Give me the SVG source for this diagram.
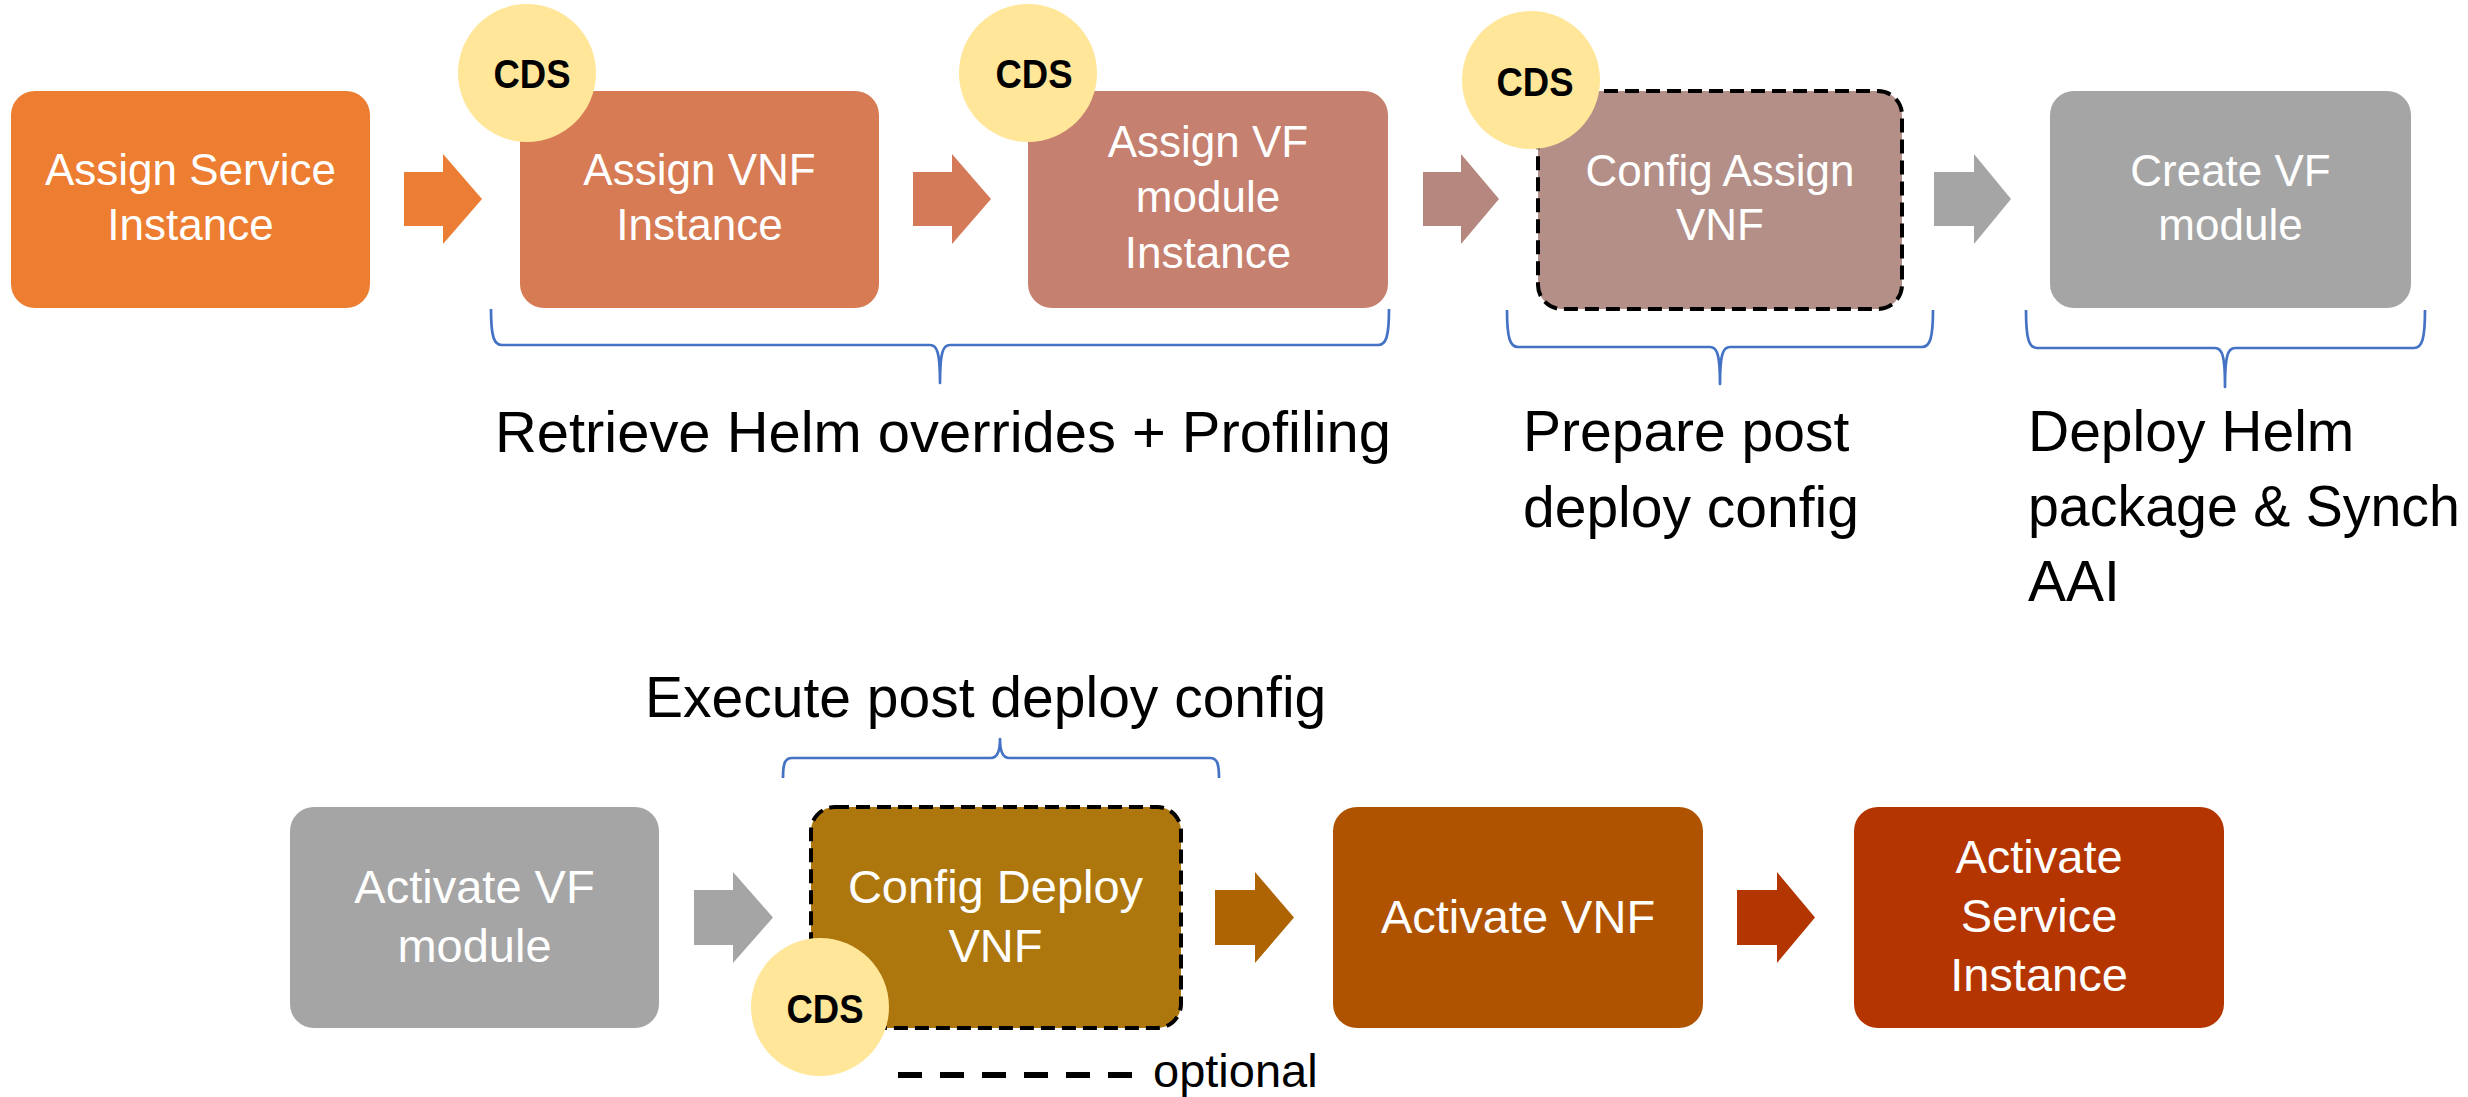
<svg xmlns="http://www.w3.org/2000/svg" width="2468" height="1097" viewBox="0 0 2468 1097">
<style>
.box{stroke:none}
.dash{fill-opacity:1;stroke:#000;stroke-width:4;stroke-dasharray:14 7}
.bt{font-family:"Liberation Sans",Arial,sans-serif;font-size:44px;fill:#fff;text-anchor:middle}
.bt2{font-family:"Liberation Sans",Arial,sans-serif;font-size:47px;fill:#fff;text-anchor:middle}
.cds{fill:#FFE699}
.ct{font-family:"Liberation Sans",Arial,sans-serif;font-size:41px;font-weight:bold;fill:#000;text-anchor:middle}
.lbl{font-family:"Liberation Sans",Arial,sans-serif;font-size:57px;fill:#000}
.brace{fill:none;stroke:#4472C4;stroke-width:2.7;stroke-linejoin:round}
</style>
<rect width="2468" height="1097" fill="#fff"/>

<g id="connectors">
  <polygon fill="#EB7D35" points="404,172 443,172 443,154 482,199 443,244 443,226 404,226"/>
  <polygon fill="#D47A58" points="913,172 952,172 952,154 991,199 952,244 952,226 913,226"/>
  <polygon fill="#B5877E" points="1423,172 1461,172 1461,154 1499,199 1461,244 1461,226 1423,226"/>
  <polygon fill="#A5A5A5" points="1934,172 1974,172 1974,154 2011,199 1974,244 1974,226 1934,226"/>
  <polygon fill="#A5A5A5" points="694,890 733,890 733,872 773,917.5 733,963 733,945 694,945"/>
  <polygon fill="#AE6403" points="1215,890 1255,890 1255,872 1294,917.5 1255,963 1255,945 1215,945"/>
  <polygon fill="#B33500" points="1737,890 1777,890 1777,872 1815,917.5 1777,963 1777,945 1737,945"/>
</g>

<g id="n1">
  <rect class="box" x="11" y="91" width="359" height="217" rx="24" fill="#ED7D31"/>
  <text class="bt" x="190.5" y="185">Assign Service</text>
  <text class="bt" x="190.5" y="240">Instance</text>
</g>
<g id="n2">
  <rect class="box" x="520" y="91" width="359" height="217" rx="24" fill="#D77B54"/>
  <text class="bt" x="699.5" y="185">Assign VNF</text>
  <text class="bt" x="699.5" y="240">Instance</text>
</g>
<g id="n3">
  <rect class="box" x="1028" y="91" width="360" height="217" rx="24" fill="#C5806F"/>
  <text class="bt" x="1208" y="157">Assign VF</text>
  <text class="bt" x="1208" y="212">module</text>
  <text class="bt" x="1208" y="268">Instance</text>
</g>
<g id="n4">
  <rect class="dash" x="1538" y="91" width="364" height="218" rx="24" fill="#B38F88"/>
  <text class="bt" x="1720" y="186">Config Assign</text>
  <text class="bt" x="1720" y="240">VNF</text>
</g>
<g id="n5">
  <rect class="box" x="2050" y="91" width="361" height="217" rx="24" fill="#A5A5A5"/>
  <text class="bt" x="2230.5" y="186">Create VF</text>
  <text class="bt" x="2230.5" y="240">module</text>
</g>
<g id="n6">
  <rect class="box" x="290" y="807" width="369" height="221" rx="24" fill="#A5A5A5"/>
  <text class="bt2" x="474.5" y="903">Activate VF</text>
  <text class="bt2" x="474.5" y="962">module</text>
</g>
<g id="n7">
  <rect class="dash" x="811" y="807" width="370" height="221" rx="24" fill="#AD770E"/>
  <text class="bt2" x="995.5" y="903">Config Deploy</text>
  <text class="bt2" x="995.5" y="962">VNF</text>
</g>
<g id="n8">
  <rect class="box" x="1333" y="807" width="370" height="221" rx="24" fill="#AF5300"/>
  <text class="bt2" x="1518" y="933">Activate VNF</text>
</g>
<g id="n9">
  <rect class="box" x="1854" y="807" width="370" height="221" rx="24" fill="#B43500"/>
  <text class="bt2" x="2039" y="873">Activate</text>
  <text class="bt2" x="2039" y="932">Service</text>
  <text class="bt2" x="2039" y="991">Instance</text>
</g>

<g id="cds1">
  <circle class="cds" cx="527" cy="73" r="69"/>
  <text class="ct" x="532" y="88" textLength="77" lengthAdjust="spacingAndGlyphs">CDS</text>
</g>
<g id="cds2">
  <circle class="cds" cx="1028" cy="73" r="69"/>
  <text class="ct" x="1034" y="88" textLength="77" lengthAdjust="spacingAndGlyphs">CDS</text>
</g>
<g id="cds3">
  <circle class="cds" cx="1531" cy="80" r="69"/>
  <text class="ct" x="1535" y="96" textLength="77" lengthAdjust="spacingAndGlyphs">CDS</text>
</g>
<g id="cds4">
  <circle class="cds" cx="820" cy="1007" r="69"/>
  <text class="ct" x="825" y="1023" textLength="77" lengthAdjust="spacingAndGlyphs">CDS</text>
</g>

<g id="braces">
  <path class="brace" d="M491,309 C491,337 494,345 502,345 L930,345 C937,345 940,352 940,383 C940,352 943,345 950,345 L1378,345 C1386,345 1389,337 1389,309"/>
  <path class="brace" d="M1507,310 C1507,338 1510,347 1518,347 L1710,347 C1717,347 1720,354 1720,384 C1720,354 1723,347 1730,347 L1922,347 C1930,347 1933,338 1933,310"/>
  <path class="brace" d="M2026,310 C2026,339 2029,348 2037,348 L2215,348 C2222,348 2225,355 2225,387 C2225,355 2228,348 2235,348 L2414,348 C2422,348 2425,339 2425,310"/>
  <path class="brace" d="M783,778 C783,763 785,758 792,758 L991,758 C997,758 1000,753 1000,739 C1000,753 1003,758 1009,758 L1210,758 C1217,758 1219,763 1219,778"/>
</g>

<g id="labels">
  <text class="lbl" x="495" y="452" textLength="896" lengthAdjust="spacingAndGlyphs">Retrieve Helm overrides + Profiling</text>
  <text class="lbl" x="1523" y="451">Prepare post</text>
  <text class="lbl" x="1523" y="527">deploy config</text>
  <text class="lbl" x="2028" y="451">Deploy Helm</text>
  <text class="lbl" x="2028" y="526" textLength="432" lengthAdjust="spacingAndGlyphs">package &amp; Synch</text>
  <text class="lbl" x="2028" y="601">AAI</text>
  <text class="lbl" x="645" y="717">Execute post deploy config</text>
</g>

<g id="legend">
  <line x1="898" y1="1075" x2="1132" y2="1075" stroke="#000" stroke-width="6" stroke-dasharray="24 18"/>
  <text x="1153" y="1087" font-family="Liberation Sans, Arial, sans-serif" font-size="47" fill="#000">optional</text>
</g>
</svg>
